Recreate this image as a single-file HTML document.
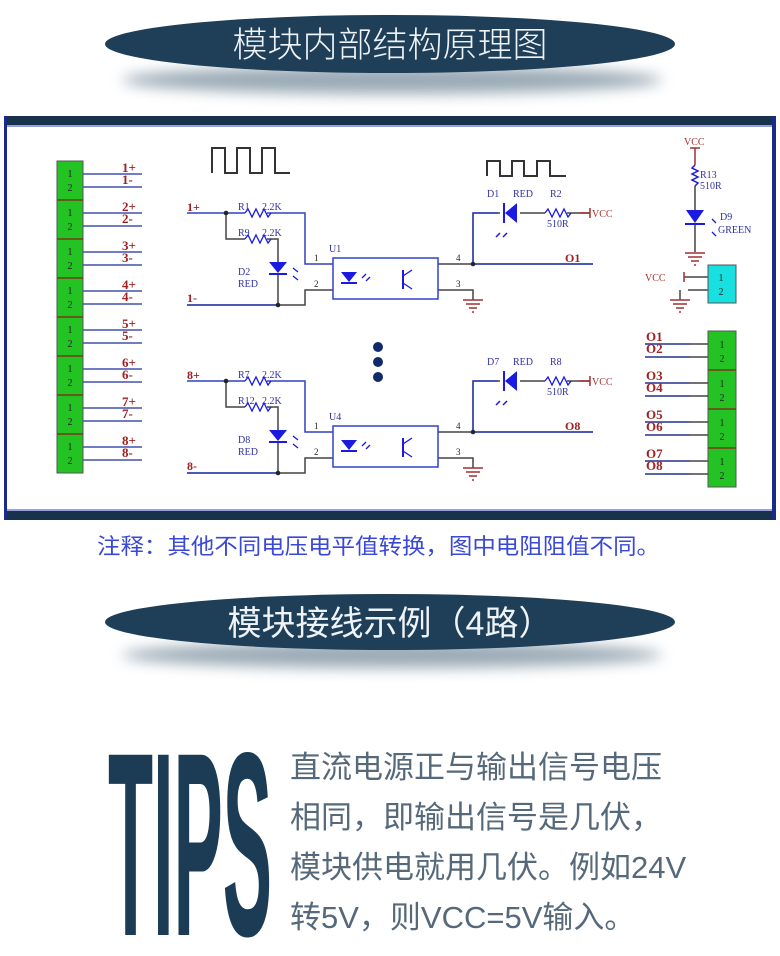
<!DOCTYPE html>
<html><head><meta charset="utf-8"><style>
html,body{margin:0;padding:0;background:#fff;width:780px;height:956px;overflow:hidden}
svg{display:block}
.s{font-family:"Liberation Serif",serif}
.c{font-family:"Liberation Sans","Noto Sans CJK SC",sans-serif}
</style></head><body>
<svg width="780" height="956" viewBox="0 0 780 956" xmlns="http://www.w3.org/2000/svg">
<defs>
<filter id="bl" x="-20%" y="-100%" width="140%" height="300%"><feGaussianBlur stdDeviation="7"/></filter>
<g id="res"><path d="M0 0 l3 -4 l4 8 l4 -8 l4 8 l4 -8 l4 8 l3 -4" fill="none" stroke="#1a1ae0" stroke-width="1.3"/></g>
<g id="gnd" stroke="#a03030" stroke-width="1.5"><line x1="-10" y1="0" x2="10" y2="0"/><line x1="-7" y1="4" x2="7" y2="4"/><line x1="-4" y1="8" x2="4" y2="8"/><line x1="-1" y1="12" x2="1" y2="12"/></g>
</defs>

<!-- banner 1 -->
<ellipse cx="392" cy="80" rx="270" ry="14" fill="#6f8697" opacity="0.7" filter="url(#bl)"/>
<ellipse cx="390" cy="44" rx="285" ry="29" fill="#1f3e57"/>
<text x="390" y="57" text-anchor="middle" class="c" font-size="35" fill="#eef3f7" font-weight="300">模块内部结构原理图</text>

<!-- frame -->
<rect x="4" y="116" width="772" height="404" fill="#fff"/>
<rect x="4" y="116" width="772" height="9" fill="#17324a"/>
<rect x="4" y="511" width="772" height="9" fill="#17324a"/>
<rect x="4" y="116" width="3" height="404" fill="#1a2a8a"/>
<rect x="772" y="116" width="4" height="404" fill="#1a2a8a"/>
<line x1="7" y1="126" x2="772" y2="126" stroke="#3040c0" stroke-width="1"/>
<line x1="7" y1="510" x2="772" y2="510" stroke="#3040c0" stroke-width="1"/>

<!-- square waves -->
<path d="M212 173 V148 H225 V173 H237 V148 H250 V173 H262 V148 H275 V173 H290" fill="none" stroke="#333" stroke-width="2"/>
<path d="M487 176 V161 H500 V176 H512 V161 H524 V176 H537 V161 H550 V176 H566" fill="none" stroke="#333" stroke-width="2"/>

<!-- left connector -->
<g class="s" font-weight="bold" fill="#a02020" font-size="13">
<rect x="57" y="161" width="26" height="312" fill="#22c322" stroke="#555" stroke-width="1"/>
<g stroke="#7a3a1a" stroke-width="1.5">
<line x1="57" y1="200" x2="83" y2="200"/><line x1="57" y1="239" x2="83" y2="239"/><line x1="57" y1="278" x2="83" y2="278"/><line x1="57" y1="317" x2="83" y2="317"/><line x1="57" y1="356" x2="83" y2="356"/><line x1="57" y1="395" x2="83" y2="395"/><line x1="57" y1="434" x2="83" y2="434"/></g>
<g stroke-width="1.5">
<path d="M83 174H142M83 187H142M83 213H142M83 226H142M83 252H142M83 265H142M83 291H142M83 304H142M83 330H142M83 343H142M83 369H142M83 382H142M83 408H142M83 421H142M83 447H142M83 460H142" stroke="#4050b0"/></g>
<g font-weight="normal" fill="#222" font-size="10" text-anchor="middle">
<text x="70" y="177">1</text><text x="70" y="191">2</text><text x="70" y="216">1</text><text x="70" y="230">2</text><text x="70" y="255">1</text><text x="70" y="269">2</text><text x="70" y="294">1</text><text x="70" y="308">2</text><text x="70" y="333">1</text><text x="70" y="347">2</text><text x="70" y="372">1</text><text x="70" y="386">2</text><text x="70" y="411">1</text><text x="70" y="425">2</text><text x="70" y="450">1</text><text x="70" y="464">2</text></g>
<text x="122" y="172">1+</text><text x="122" y="184">1-</text>
<text x="122" y="211">2+</text><text x="122" y="223">2-</text>
<text x="122" y="250">3+</text><text x="122" y="262">3-</text>
<text x="122" y="289">4+</text><text x="122" y="301">4-</text>
<text x="122" y="328">5+</text><text x="122" y="340">5-</text>
<text x="122" y="367">6+</text><text x="122" y="379">6-</text>
<text x="122" y="406">7+</text><text x="122" y="418">7-</text>
<text x="122" y="445">8+</text><text x="122" y="457">8-</text>
</g>

<!-- channel 1 -->
<g>
<g fill="none" stroke-width="1.5">
<path d="M187 213H245M267 213H305V264H333" stroke="#3040c0"/>
<path d="M226 213V239H245M267 239H278V262" stroke="#444"/>
<path d="M278 273V305M187 305H305V290H333" stroke="#444"/>
<path d="M187 305H278" stroke="#3040c0"/>
<path d="M438 264H593M473 264V213H500M520 213H545M567 213H590" stroke="#444"/>
<path d="M473 264H593M473 264V213H498" stroke="#3040c0"/>
<path d="M438 290H473V300" stroke="#444"/>
<line x1="590" y1="208" x2="590" y2="218" stroke="#a03030"/>
<line x1="580" y1="213" x2="590" y2="213" stroke="#a03030"/>
</g>
<use href="#res" x="245" y="213"/><use href="#res" x="245" y="239"/><use href="#res" x="545" y="213"/>
<circle cx="226" cy="213" r="2.3" fill="#223"/><circle cx="278" cy="305" r="2.3" fill="#223"/><circle cx="473" cy="264" r="2.3" fill="#223"/>
<path d="M269 262H287L278 273Z" fill="#1a1ae0"/><line x1="269" y1="274" x2="287" y2="274" stroke="#1a1ae0" stroke-width="2"/>
<path d="M293 268l5 4M293 276l5 4" stroke="#1a1ae0" stroke-width="1.3"/>
<path d="M517 203V223L505 213Z" fill="#1a1ae0"/><line x1="504" y1="203" x2="504" y2="223" stroke="#1a1ae0" stroke-width="2"/>
<path d="M500 233l-4 4M507 233l-4 4" stroke="#1a1ae0" stroke-width="1.5"/>
<rect x="333" y="258" width="105" height="41" fill="none" stroke="#3040d0" stroke-width="1.5"/>
<path d="M341 272H357L349 282Z" fill="#1a1ae0"/><line x1="341" y1="283" x2="357" y2="283" stroke="#1a1ae0" stroke-width="2"/>
<path d="M362 278l4 -4M366 281l4 -4" stroke="#1a1ae0" stroke-width="1.3"/>
<line x1="403" y1="270" x2="403" y2="289" stroke="#1a1ae0" stroke-width="2"/>
<path d="M403 276l9 -6M403 283l9 6" stroke="#1a1ae0" stroke-width="1.3"/>
<use href="#gnd" x="473" y="300"/>
<g class="s" font-size="10" fill="#3030a0">
<text x="238" y="210">R1</text><text x="262" y="210">2.2K</text>
<text x="238" y="236">R9</text><text x="262" y="236">2.2K</text>
<text x="238" y="275">D2</text><text x="238" y="287">RED</text>
<text x="329" y="252">U1</text>
<text x="487" y="197">D1</text><text x="513" y="197">RED</text>
<text x="550" y="197">R2</text><text x="547" y="227">510R</text>
<text x="592" y="217" fill="#a03030">VCC</text>
</g>
<g class="s" font-size="9" fill="#222"><text x="314" y="261">1</text><text x="314" y="287">2</text><text x="456" y="261">4</text><text x="456" y="287">3</text></g>
<g class="s" font-weight="bold" font-size="12" fill="#a02020"><text x="187" y="211">1+</text><text x="187" y="302">1-</text><text x="565" y="262">O1</text></g>
</g>
<!-- channel 8 -->
<g transform="translate(0,168)">
<g fill="none" stroke-width="1.5">
<path d="M187 213H245M267 213H305V264H333" stroke="#3040c0"/>
<path d="M226 213V239H245M267 239H278V262" stroke="#444"/>
<path d="M278 273V305M187 305H305V290H333" stroke="#444"/>
<path d="M187 305H278" stroke="#3040c0"/>
<path d="M438 264H593M473 264V213H500M520 213H545M567 213H590" stroke="#444"/>
<path d="M473 264H593M473 264V213H498" stroke="#3040c0"/>
<path d="M438 290H473V300" stroke="#444"/>
<line x1="590" y1="208" x2="590" y2="218" stroke="#a03030"/>
<line x1="580" y1="213" x2="590" y2="213" stroke="#a03030"/>
</g>
<use href="#res" x="245" y="213"/><use href="#res" x="245" y="239"/><use href="#res" x="545" y="213"/>
<circle cx="226" cy="213" r="2.3" fill="#223"/><circle cx="278" cy="305" r="2.3" fill="#223"/><circle cx="473" cy="264" r="2.3" fill="#223"/>
<path d="M269 262H287L278 273Z" fill="#1a1ae0"/><line x1="269" y1="274" x2="287" y2="274" stroke="#1a1ae0" stroke-width="2"/>
<path d="M293 268l5 4M293 276l5 4" stroke="#1a1ae0" stroke-width="1.3"/>
<path d="M517 203V223L505 213Z" fill="#1a1ae0"/><line x1="504" y1="203" x2="504" y2="223" stroke="#1a1ae0" stroke-width="2"/>
<path d="M500 233l-4 4M507 233l-4 4" stroke="#1a1ae0" stroke-width="1.5"/>
<rect x="333" y="258" width="105" height="41" fill="none" stroke="#3040d0" stroke-width="1.5"/>
<path d="M341 272H357L349 282Z" fill="#1a1ae0"/><line x1="341" y1="283" x2="357" y2="283" stroke="#1a1ae0" stroke-width="2"/>
<path d="M362 278l4 -4M366 281l4 -4" stroke="#1a1ae0" stroke-width="1.3"/>
<line x1="403" y1="270" x2="403" y2="289" stroke="#1a1ae0" stroke-width="2"/>
<path d="M403 276l9 -6M403 283l9 6" stroke="#1a1ae0" stroke-width="1.3"/>
<use href="#gnd" x="473" y="300"/>
<g class="s" font-size="10" fill="#3030a0">
<text x="238" y="210">R7</text><text x="262" y="210">2.2K</text>
<text x="238" y="236">R12</text><text x="262" y="236">2.2K</text>
<text x="238" y="275">D8</text><text x="238" y="287">RED</text>
<text x="329" y="252">U4</text>
<text x="487" y="197">D7</text><text x="513" y="197">RED</text>
<text x="550" y="197">R8</text><text x="547" y="227">510R</text>
<text x="592" y="217" fill="#a03030">VCC</text>
</g>
<g class="s" font-size="9" fill="#222"><text x="314" y="261">1</text><text x="314" y="287">2</text><text x="456" y="261">4</text><text x="456" y="287">3</text></g>
<g class="s" font-weight="bold" font-size="12" fill="#a02020"><text x="187" y="211">8+</text><text x="187" y="302">8-</text><text x="565" y="262">O8</text></g>
</g>

<circle cx="378" cy="347" r="5" fill="#122a6a"/><circle cx="378" cy="362" r="5" fill="#122a6a"/><circle cx="378" cy="377" r="5" fill="#122a6a"/>

<!-- right top: power LED -->
<g fill="none" stroke-width="1.5">
<line x1="690" y1="148" x2="700" y2="148" stroke="#a03030"/>
<path d="M695 148V165" stroke="#a03030"/>
<path d="M695 165l-3 3l6 3l-6 3l6 3l-6 3l6 3l-3 3" stroke="#1a1ae0"/>
<path d="M695 186V210M695 225V252" stroke="#444"/>
<path d="M684 277H708M688 290H708" stroke="#444"/>
<path d="M684 272V282" stroke="#a03030"/>
<path d="M680 290V300" stroke="#444"/>
</g>
<path d="M686 210H704L695 223Z" fill="#1a1ae0"/><line x1="685" y1="224" x2="705" y2="224" stroke="#1a1ae0" stroke-width="2"/>
<path d="M712 219l4 4M712 232l4 4" stroke="#1a1ae0" stroke-width="1.3"/>
<use href="#gnd" x="695" y="253"/>
<use href="#gnd" x="680" y="300"/>
<rect x="708" y="265" width="28" height="38" fill="#18e0e0" stroke="#555"/>
<g class="s" font-size="10" fill="#222" text-anchor="middle"><text x="721" y="281">1</text><text x="721" y="295">2</text></g>
<g class="s" font-size="10">
<text x="684" y="145" fill="#a03030">VCC</text>
<text x="700" y="178" fill="#3030a0">R13</text><text x="700" y="189" fill="#3030a0">510R</text>
<text x="720" y="220" fill="#3030a0">D9</text><text x="718" y="233" fill="#3030a0">GREEN</text>
<text x="645" y="281" fill="#a03030">VCC</text>
</g>

<!-- right output connector -->
<rect x="708" y="331" width="28" height="156" fill="#22c322" stroke="#555"/>
<g stroke="#7a3a1a" stroke-width="1.5"><line x1="708" y1="370" x2="736" y2="370"/><line x1="708" y1="409" x2="736" y2="409"/><line x1="708" y1="448" x2="736" y2="448"/></g>
<path d="M645 344H708M645 357H708M645 383H708M645 396H708M645 422H708M645 435H708M645 461H708M645 474H708" stroke="#444" stroke-width="1.5"/>
<path d="M645 344H690M645 357H690M645 383H690M645 396H690M645 422H690M645 435H690M645 461H690M645 474H690" stroke="#4050b0" stroke-width="1.5"/>
<g class="s" font-size="10" fill="#222" text-anchor="middle">
<text x="722" y="348">1</text><text x="722" y="362">2</text><text x="722" y="387">1</text><text x="722" y="401">2</text><text x="722" y="426">1</text><text x="722" y="440">2</text><text x="722" y="465">1</text><text x="722" y="479">2</text></g>
<g class="s" font-weight="bold" font-size="13" fill="#a02020">
<text x="646" y="341">O1</text><text x="646" y="353">O2</text>
<text x="646" y="380">O3</text><text x="646" y="392">O4</text>
<text x="646" y="419">O5</text><text x="646" y="431">O6</text>
<text x="646" y="458">O7</text><text x="646" y="470">O8</text></g>

<!-- caption -->
<text x="97" y="554" class="c" font-size="22" fill="#3a48d8" textLength="563" lengthAdjust="spacingAndGlyphs">注释：其他不同电压电平值转换，图中电阻阻值不同。</text>

<!-- banner 2 -->
<ellipse cx="392" cy="655" rx="270" ry="13" fill="#6f8697" opacity="0.7" filter="url(#bl)"/>
<ellipse cx="390" cy="622" rx="285" ry="28" fill="#1f3e57"/>
<text x="390" y="635" text-anchor="middle" class="c" font-size="34" fill="#eef3f7">模块接线示例（4路）</text>

<!-- TIPS -->
<text x="108" y="935" class="c" font-weight="bold" font-size="262" fill="#1c3c56" textLength="164" lengthAdjust="spacingAndGlyphs">TIPS</text>
<g class="c" font-size="31" fill="#56697a">
<text x="290" y="778">直流电源正与输出信号电压</text>
<text x="290" y="828">相同，即输出信号是几伏，</text>
<text x="290" y="878">模块供电就用几伏。例如24V</text>
<text x="290" y="928">转5V，则VCC=5V输入。</text>
</g>
</svg>
</body></html>
